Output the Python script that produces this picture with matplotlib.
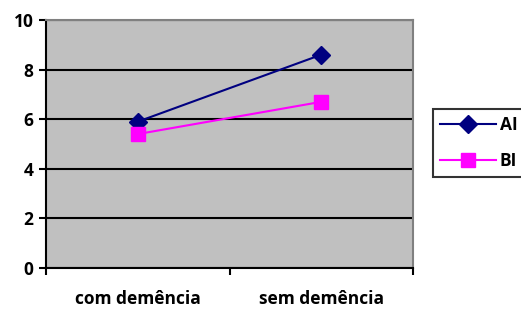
import numpy as np
import matplotlib.pyplot as plt

categories = ['com demência', 'sem demência']
ai_values = [5.9, 8.6]
bi_values = [5.4, 6.7]
y_ticks = [0, 2, 4, 6, 8, 10]

plt.rcParams['font.family'] = ['Open Sans', 'DejaVu Sans']
plt.rcParams['font.weight'] = 'bold'

fig = plt.figure(figsize=(5.21, 3.09), dpi=100)
ax = fig.add_axes([46 / 521, 1 - 268 / 309, 367 / 521, 248 / 309])
ax.set_facecolor('#c0c0c0')

x = np.arange(len(categories))
ax.plot(x, ai_values, color='#000080', marker='D', markersize=9, lw=1.5, label='AI', zorder=3)
ax.plot(x, bi_values, color='#ff00ff', marker='s', markersize=10, lw=1.5, label='BI', zorder=3)

ax.set_xlim(-0.5, 1.5)
ax.set_ylim(0, 10)
ax.set_yticks(y_ticks)
ax.set_yticklabels([str(v) for v in y_ticks], fontsize=12.5, fontweight='bold')
ax.yaxis.grid(True, color='black', lw=1.5)
ax.set_axisbelow(True)

ax.set_xticks([-0.5, 0.5, 1.5])
ax.set_xticklabels([])
ax.set_xticks(x, minor=True)
ax.set_xticklabels(categories, minor=True, fontsize=12.5, fontweight='bold')
ax.tick_params(axis='x', which='minor', length=0, pad=16)
ax.tick_params(axis='x', which='major', length=5, width=1.5, direction='out')
ax.tick_params(axis='y', length=5, width=1.5, direction='out', pad=4)

for s in ['left', 'bottom']:
    ax.spines[s].set_color('black')
    ax.spines[s].set_linewidth(1.5)
for s in ['top', 'right']:
    ax.spines[s].set_color('#808080')
    ax.spines[s].set_linewidth(1.5)

leg = ax.legend(loc='upper left', bbox_to_anchor=(433 / 521, 1 - 109 / 309),
                bbox_transform=fig.transFigure, borderaxespad=0, frameon=True,
                fancybox=False, prop={'weight': 'bold', 'size': 12.5},
                handlelength=3.2, borderpad=0.4, labelspacing=1.05,
                handletextpad=0.25)
leg.get_frame().set_edgecolor('black')
leg.get_frame().set_linewidth(1.5)

fig.savefig('out.png', dpi=100)
